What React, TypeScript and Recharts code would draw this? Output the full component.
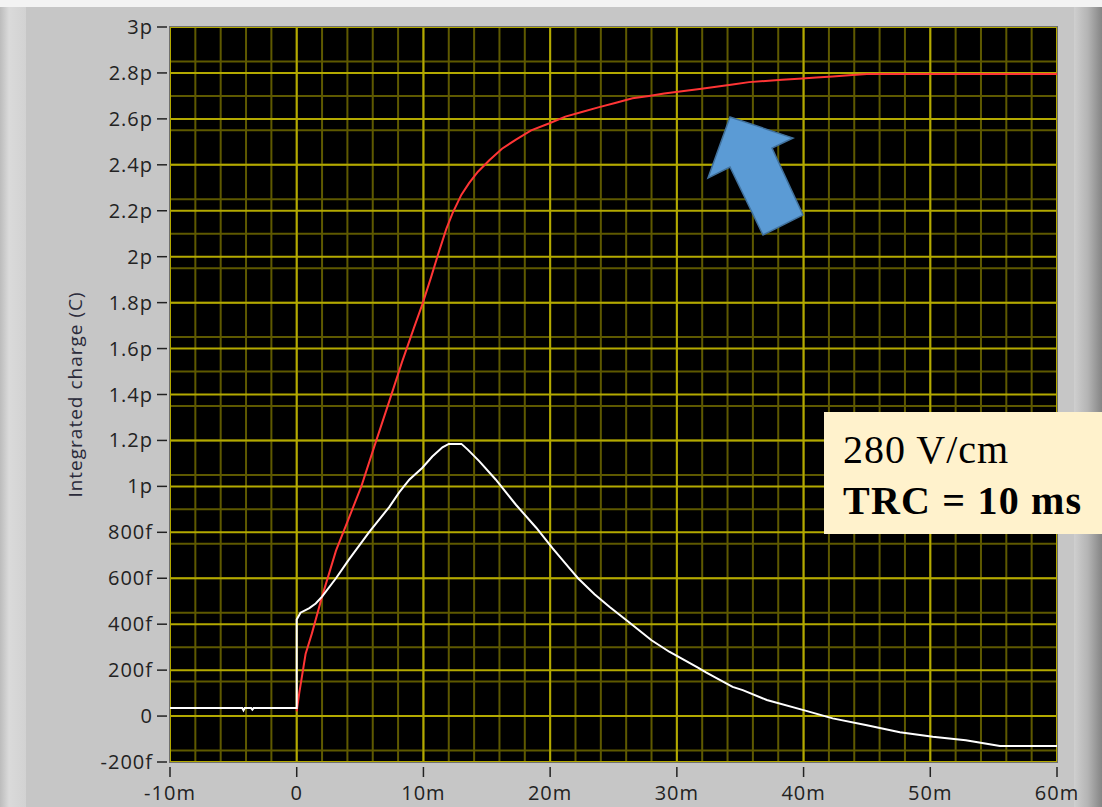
import { LineChart, Line, XAxis, YAxis, CartesianGrid } from "recharts"

// time in ms, charge in pC
const redTime = [
  0, 0.2, 0.7, 1.2, 2, 3.1, 4.1, 5.1, 6.1, 7.3, 8.3, 9.25, 9.9, 10.6, 11.1, 11.8, 12.3, 13, 13.6,
  14.3, 15.2, 16.2, 17.3, 18.5, 19.9, 21.2, 22.5, 23.8, 25.2, 26.5, 27.8, 29, 30.4, 31.8, 33.1,
  34.4, 35.7, 37, 38.3, 39.6, 41, 42.3, 43.6, 45, 47, 50, 55, 60,
]
const redCharge = [
  0.02, 0.1, 0.27, 0.36, 0.52, 0.72, 0.86, 1.0, 1.17, 1.37, 1.54, 1.69, 1.79, 1.91, 2.0, 2.12, 2.19,
  2.27, 2.32, 2.37, 2.42, 2.47, 2.51, 2.55, 2.58, 2.61, 2.63, 2.65, 2.67, 2.69, 2.7, 2.71, 2.72,
  2.73, 2.74, 2.75, 2.76, 2.765, 2.77, 2.775, 2.78, 2.785, 2.79, 2.795, 2.795, 2.795, 2.795, 2.795,
]

const whiteTime = [
  -10, -4.3, -4.2, -4.1, -3.6, -3.5, -3.4, 0, 0, 0.3, 1, 1.5, 2, 3.1, 4.1, 5.7, 7.3, 8.1, 8.9, 9.9,
  10.7, 11.5, 12, 13, 13.5, 14.4, 15.7, 17.3, 18.9, 20.2, 21.5, 22.2, 23.5, 24.7, 26.3, 28, 29.4,
  31.7, 32.3, 34.4, 35.2, 37.1, 40, 42.3, 45, 47.6, 50.2, 52.8, 55.5, 60,
]
const whiteCharge = [
  0.035, 0.035, 0.025, 0.035, 0.035, 0.028, 0.035, 0.035, 0.42, 0.45, 0.47, 0.49, 0.52, 0.6, 0.68,
  0.8, 0.91, 0.975, 1.03, 1.08, 1.13, 1.17, 1.185, 1.185, 1.16, 1.11, 1.03, 0.92, 0.82, 0.73, 0.645,
  0.6, 0.53, 0.475, 0.405, 0.33, 0.28, 0.21, 0.19, 0.127, 0.113, 0.07, 0.026, -0.01, -0.04, -0.07,
  -0.09, -0.105, -0.13, -0.13,
]

const xTicks = [-10, 0, 10, 20, 30, 40, 50, 60]
const xTickLabels = ["-10m", "0", "10m", "20m", "30m", "40m", "50m", "60m"]
const yTicks = [-0.2, 0, 0.2, 0.4, 0.6, 0.8, 1, 1.2, 1.4, 1.6, 1.8, 2, 2.2, 2.4, 2.6, 2.8, 3]
const yTickLabels = [
  "-200f", "0", "200f", "400f", "600f", "800f", "1p", "1.2p", "1.4p", "1.6p", "1.8p", "2p",
  "2.2p", "2.4p", "2.6p", "2.8p", "3p",
]

// minor grid: 1 ms and 50 fC
const xMinor = Array.from({ length: 71 }, (_, i) => i - 10)
const yMinor = Array.from({ length: 65 }, (_, i) => Math.round((i * 0.05 - 0.2) * 1000) / 1000)

const redData = redTime.map((t, i) => ({ t, q: redCharge[i] }))
const whiteData = whiteTime.map((t, i) => ({ t, q: whiteCharge[i] }))

const labelFont = "'Open Sans', 'Noto Sans', sans-serif"
const tickStyle = { fontSize: 20, fontFamily: labelFont, fill: "#222", letterSpacing: 1 }

function YTick({ x, y, payload }: any) {
  const idx = yTicks.findIndex((v) => Math.abs(v - payload.value) < 1e-6)
  return (
    <g>
      <line x1={x - 13} x2={x - 3} y1={y} y2={y} stroke="#222" strokeWidth={1.5} />
      <text x={x - 17} y={y + 7} textAnchor="end" style={tickStyle}>
        {yTickLabels[idx]}
      </text>
    </g>
  )
}

function XTick({ x, y, payload }: any) {
  const idx = xTicks.indexOf(payload.value)
  return (
    <g>
      <line x1={x} x2={x} y1={y + 5} y2={y + 15} stroke="#222" strokeWidth={1.5} />
      <text x={x} y={y + 38} textAnchor="middle" style={tickStyle}>
        {xTickLabels[idx]}
      </text>
    </g>
  )
}

function YLabel({ viewBox }: any) {
  const cx = viewBox.x + 75
  const cy = viewBox.y + viewBox.height / 2
  return (
    <text
      x={cx}
      y={cy}
      textAnchor="middle"
      dominantBaseline="central"
      transform={`rotate(-90, ${cx}, ${cy})`}
      style={{ fontSize: 19, fontFamily: labelFont, fill: "#2a2a3a", letterSpacing: 1 }}
    >
      Integrated charge (C)
    </text>
  )
}

export default function App() {
  return (
    <div
      style={{
        position: "absolute",
        left: 0,
        top: 0,
        width: 1102,
        height: 807,
        background: "#c6c6c6",
        overflow: "hidden",
      }}
    >
      <div
        style={{
          position: "absolute",
          left: 0,
          top: 0,
          width: 26,
          height: 807,
          background: "linear-gradient(to right, #bcbcbc, #dadada 35%, #d2d2d2)",
        }}
      />
      <div style={{ position: "absolute", left: 0, top: 0, width: 1102, height: 7, background: "#f3f3f3" }} />
      <div
        style={{
          position: "absolute",
          left: 1074,
          top: 7,
          width: 28,
          height: 800,
          background: "linear-gradient(to right, #cfcfcf, #b4b4b4 50%, #858585)",
        }}
      />
      <div style={{ position: "absolute", left: 0, top: 0 }}>
        <LineChart width={1102} height={807} margin={{ top: 27, right: 45, bottom: 0, left: 0 }}>
          <CartesianGrid
            fill="#000"
            stroke="#5e5900"
            strokeWidth={2}
            verticalValues={xMinor}
            horizontalValues={yMinor}
          />
          <CartesianGrid
            stroke="#b3a900"
            strokeWidth={2}
            verticalValues={xTicks}
            horizontalValues={yTicks}
          />
          <XAxis
            dataKey="t"
            type="number"
            domain={[-10, 60]}
            ticks={xTicks}
            allowDataOverflow
            height={45}
            axisLine={false}
            tickLine={false}
            tickSize={0}
            tickMargin={0}
            tick={<XTick />}
          />
          <YAxis
            type="number"
            domain={[-0.2, 3]}
            ticks={yTicks}
            allowDataOverflow
            width={170}
            axisLine={false}
            tickLine={false}
            tickSize={0}
            tickMargin={0}
            tick={<YTick />}
            label={{ content: <YLabel /> }}
          />
          <Line
            data={redData}
            dataKey="q"
            type="linear"
            stroke="#ff3535"
            strokeWidth={2}
            dot={false}
            isAnimationActive={false}
          />
          <Line
            data={whiteData}
            dataKey="q"
            type="linear"
            stroke="#ffffff"
            strokeWidth={2}
            dot={false}
            isAnimationActive={false}
          />
        </LineChart>
      </div>
      <svg
        width={1102}
        height={807}
        style={{ position: "absolute", left: 0, top: 0, pointerEvents: "none" }}
      >
        <rect x={169.5} y={26.5} width={888} height={736} fill="none" stroke="#707070" strokeWidth={1} />
        <polygon
          points="730,117 793,138 772,148 803,215 763,235 730,167 708,178"
          fill="#5b9bd5"
          stroke="#41719c"
          strokeWidth={1.5}
        />
      </svg>
      <div
        style={{
          position: "absolute",
          left: 824,
          top: 412,
          width: 278,
          height: 122,
          background: "#fff2cc",
          fontFamily: "'Liberation Serif', 'Times New Roman', serif",
          color: "#000",
          paddingLeft: 19,
          paddingTop: 14,
          boxSizing: "border-box",
          whiteSpace: "nowrap",
        }}
      >
        <div style={{ fontSize: 40, lineHeight: "48px", letterSpacing: 1 }}>280 V/cm</div>
        <div style={{ fontSize: 40, lineHeight: "54px", fontWeight: "bold", letterSpacing: 1.2 }}>
          TRC = 10 ms
        </div>
      </div>
    </div>
  )
}
